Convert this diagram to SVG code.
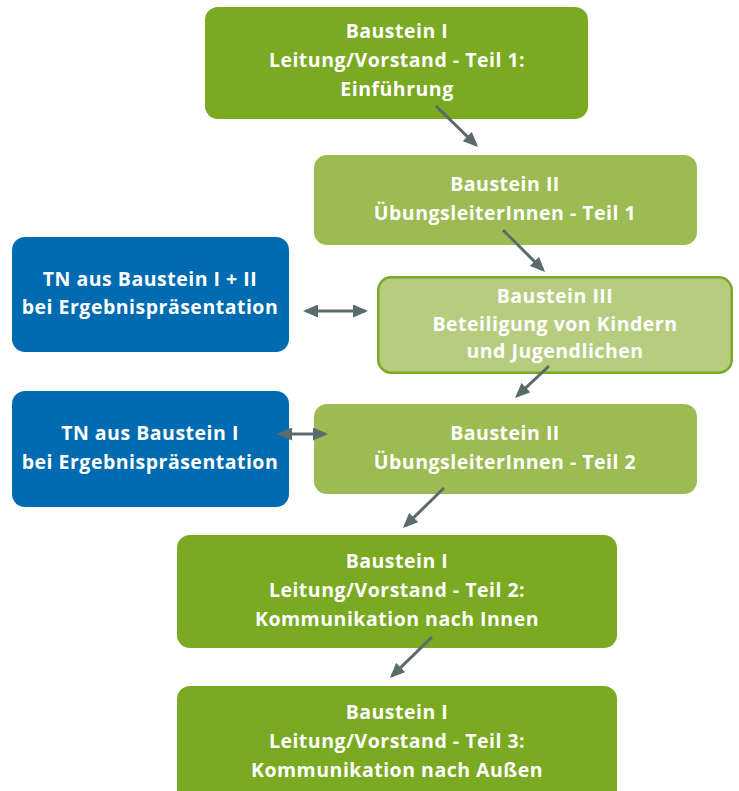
<svg xmlns="http://www.w3.org/2000/svg" width="739" height="791" viewBox="0 0 739 791">
<style>
.t{font-family:"Open Sans","Liberation Sans",sans-serif;font-weight:700;font-size:19.5px;letter-spacing:0.5px;fill:#ffffff;text-anchor:middle}
.dark{fill:#7aa922}
.mid{fill:#9cbb52}
.blue{fill:#006bb0}
.light{fill:#b6cd80;stroke:#7aa922;stroke-width:2.5}
.c{stroke:#5b6a6a;stroke-width:3;fill:none}
</style>
<defs>
<marker id="ah" markerUnits="userSpaceOnUse" markerWidth="15" markerHeight="13" refX="12" refY="6.5" orient="auto-start-reverse">
<path d="M0,0 L15,6.5 L0,13 z" fill="#5b6a6a"/>
</marker>
</defs>
<rect width="739" height="791" fill="#ffffff"/>
<g id="n1">
<rect class="dark" x="205" y="7" width="383" height="112" rx="13"/>
<text class="t" x="397" y="38">Baustein I</text>
<text class="t" x="397" y="67">Leitung/Vorstand - Teil 1:</text>
<text class="t" x="397" y="96">Einführung</text>
</g>
<g id="n2">
<rect class="mid" x="314" y="155" width="383" height="90" rx="13"/>
<text class="t" x="505" y="191">Baustein II</text>
<text class="t" x="505" y="220">ÜbungsleiterInnen - Teil 1</text>
</g>
<g id="b1">
<rect class="blue" x="12" y="237" width="277" height="115" rx="13"/>
<text class="t" x="150" y="286">TN aus Baustein I + II</text>
<text class="t" x="150" y="314">bei Ergebnispräsentation</text>
</g>
<g id="n3">
<rect class="light" x="378.25" y="277.25" width="353.5" height="95.5" rx="13"/>
<text class="t" x="555" y="303">Baustein III</text>
<text class="t" x="555" y="331">Beteiligung von Kindern</text>
<text class="t" x="555" y="358">und Jugendlichen</text>
</g>
<g id="b2">
<rect class="blue" x="12" y="391" width="277" height="116" rx="13"/>
<text class="t" x="150" y="440">TN aus Baustein I</text>
<text class="t" x="150" y="469">bei Ergebnispräsentation</text>
</g>
<g id="n4">
<rect class="mid" x="314" y="404" width="383" height="90" rx="13"/>
<text class="t" x="505" y="440">Baustein II</text>
<text class="t" x="505" y="469">ÜbungsleiterInnen - Teil 2</text>
</g>
<g id="n5">
<rect class="dark" x="177" y="535" width="440" height="113" rx="13"/>
<text class="t" x="397" y="568">Baustein I</text>
<text class="t" x="397" y="597">Leitung/Vorstand - Teil 2:</text>
<text class="t" x="397" y="626">Kommunikation nach Innen</text>
</g>
<g id="n6">
<rect class="dark" x="177" y="686" width="440" height="120" rx="13"/>
<text class="t" x="397" y="719">Baustein I</text>
<text class="t" x="397" y="748">Leitung/Vorstand - Teil 3:</text>
<text class="t" x="397" y="777">Kommunikation nach Außen</text>
</g>
<g id="connectors">
<line class="c" x1="436" y1="106" x2="475.9" y2="144.9" marker-end="url(#ah)"/>
<line class="c" x1="503" y1="230" x2="542.9" y2="269.9" marker-end="url(#ah)"/>
<line class="c" x1="549" y1="366" x2="517.2" y2="395.9" marker-end="url(#ah)"/>
<line class="c" x1="444" y1="488" x2="405.1" y2="525.9" marker-end="url(#ah)"/>
<line class="c" x1="432" y1="637" x2="392.1" y2="675.9" marker-end="url(#ah)"/>
<line class="c" x1="306" y1="311" x2="365" y2="311" marker-start="url(#ah)" marker-end="url(#ah)"/>
<line class="c" x1="280" y1="434" x2="325" y2="434" marker-start="url(#ah)" marker-end="url(#ah)"/>
</g>
</svg>
